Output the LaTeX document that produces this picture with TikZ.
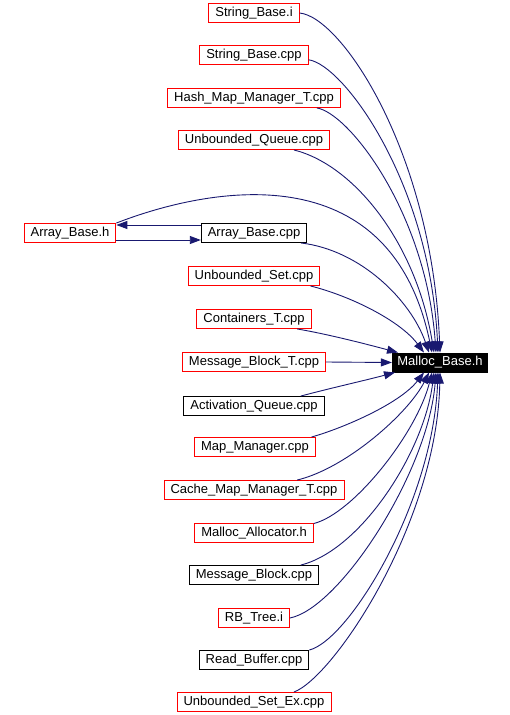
\documentclass[tikz,border=0pt]{standalone}
\usepackage{fontspec}
\setmainfont{Liberation Sans}
\usepackage{xcolor}
\usepackage{tikz}
\usetikzlibrary{arrows.meta,positioning}
\definecolor{EdgeBlue}{RGB}{25, 25, 112}

\begin{document}
\begin{tikzpicture}[
    x=1pt, y=-1pt,
    file/.style={rectangle, draw=black, line width=0.9pt, minimum height=19pt,
        inner xsep=6.5pt, inner ysep=2pt, font=\fontsize{13}{15}\selectfont},
    redfile/.style={file, draw=red},
    arr/.style={-{Triangle[length=11pt,width=8pt]}, EdgeBlue, line width=0.9pt}
]
    \useasboundingbox (0,0) rectangle (510,715);

    % the header everything points to
    \node[file, fill=black, text=white, inner xsep=5pt] (mbase) at (440,362.5) {Malloc\_Base.h};

    % includers, top to bottom
    \node[redfile] (strbi)   at (254,13)  {String\_Base.i};
    \node[redfile] (strbcpp) at (254,55)  {String\_Base.cpp};
    \node[redfile] (hmm)     at (254,98)  {Hash\_Map\_Manager\_T.cpp};
    \node[redfile] (uq)      at (254,140) {Unbounded\_Queue.cpp};
    \node[redfile] (abh)     at (70,233)  {Array\_Base.h};
    \node[file]    (abcpp)   at (254,233) {Array\_Base.cpp};
    \node[redfile] (us)      at (254,276) {Unbounded\_Set.cpp};
    \node[redfile] (ct)      at (254,319) {Containers\_T.cpp};
    \node[redfile] (mbt)     at (254,362) {Message\_Block\_T.cpp};
    \node[file]    (aq)      at (254,406) {Activation\_Queue.cpp};
    \node[redfile] (mm)      at (255,447) {Map\_Manager.cpp};
    \node[redfile] (cmm)     at (254,490) {Cache\_Map\_Manager\_T.cpp};
    \node[redfile] (malloc)  at (254,533) {Malloc\_Allocator.h};
    \node[file]    (mblk)    at (254,575) {Message\_Block.cpp};
    \node[redfile] (rbt)     at (254,618) {RB\_Tree.i};
    \node[file]    (rbuf)    at (254,660) {Read\_Buffer.cpp};
    \node[redfile] (usex)    at (254,702) {Unbounded\_Set\_Ex.cpp};

    % edges from above
    \draw[arr] (strbi.east) .. controls +(42,4) and +(-8,-200) .. ([xshift=0pt]mbase.north);
    \draw[arr] (strbcpp.-5) .. controls +(35,5) and +(-8,-170) .. ([xshift=-2pt]mbase.north);
    \draw[arr] (hmm.-9) .. controls +(32,5) and +(-10,-140) .. ([xshift=-4pt]mbase.north);
    \draw[arr] (uq.-14) .. controls +(60,15) and +(-18,-110) .. ([xshift=-6pt]mbase.north);
    \draw[arr] (abh.north east) .. controls +(90,-35) and +(-42,-202) .. ([xshift=-8pt]mbase.north);
    \draw[arr] (abcpp.-12) .. controls +(60,7) and +(-18,-52) .. ([xshift=-11pt]mbase.north);
    \draw[arr] (us.-10) .. controls +(40,10) and +(-24,-32) .. ([xshift=-16pt]mbase.north);
    \draw[arr] (ct.-13) .. controls +(30,5) and +(-30,-8) .. ([xshift=-42pt]mbase.north);

    % side edges
    \draw[arr] (mbt.east) -- (mbase.west);
    \draw[arr] (aq.12) .. controls +(30,-8) and +(-30,8) .. ([xshift=-45pt]mbase.south);

    % edges from below
    \draw[arr] (mm.10) .. controls +(32,-9) and +(-24,31) .. ([xshift=-16pt]mbase.south);
    \draw[arr] (cmm.13) .. controls +(50,-12) and +(-20,40) .. ([xshift=-11pt]mbase.south);
    \draw[arr] (malloc.9) .. controls +(40,-10) and +(-15,60) .. ([xshift=-8pt]mbase.south);
    \draw[arr] (mblk.12) .. controls +(60,-15) and +(-10,80) .. ([xshift=-6pt]mbase.south);
    \draw[arr] (rbt.east) .. controls +(50,-10) and +(-8,100) .. ([xshift=-4pt]mbase.south);
    \draw[arr] (rbuf.north east) .. controls +(40,-10) and +(-5,130) .. ([xshift=-2pt]mbase.south);
    \draw[arr] (usex.14) .. controls +(40,-15) and +(-3,150) .. ([xshift=0pt]mbase.south);

    % Array_Base pair
    \draw[arr] ([yshift=8pt]abcpp.west) -- ([yshift=8pt]abh.east);
    \draw[arr] ([yshift=-7pt]abh.east) -- ([yshift=-7pt]abcpp.west);
\end{tikzpicture}
\end{document}
